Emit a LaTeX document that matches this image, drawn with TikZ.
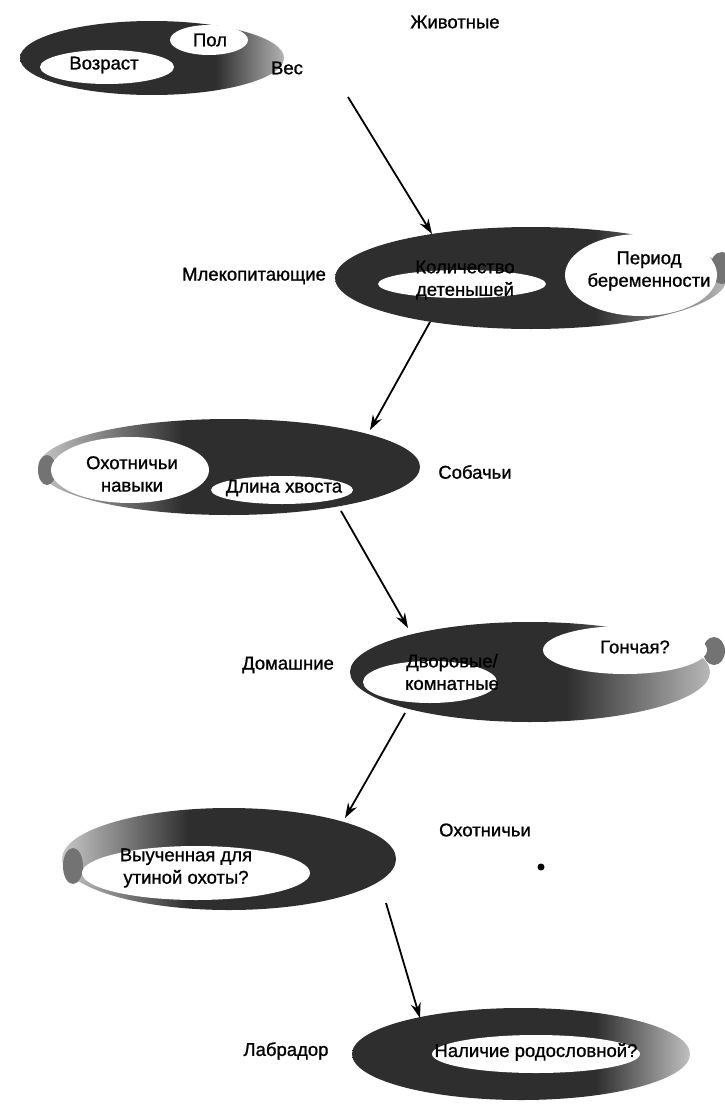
\documentclass[tikz,border=0pt]{standalone}
\usepackage{fontspec}
\setmainfont{Liberation Sans}
\newfontfamily\inkfont{Liberation Sans}[FakeBold=1.0]
\usetikzlibrary{arrows.meta}

% Ring fills: solid dark on one side, thinning out on the other.
% (The visible part of a shading is the 25bp..75bp band.)
\pgfdeclarehorizontalshading{ringA}{100bp}{color(0bp)=(black!82); color(62bp)=(black!82); color(75bp)=(black!30); color(100bp)=(black!30)}
\pgfdeclarehorizontalshading{ringB}{100bp}{color(0bp)=(black!82); color(58bp)=(black!82); color(75bp)=(black!28); color(100bp)=(black!28)}
\pgfdeclarehorizontalshading{ringC}{100bp}{color(0bp)=(black!82); color(55bp)=(black!82); color(75bp)=(black!28); color(100bp)=(black!28)}
\pgfdeclarehorizontalshading{ringD}{100bp}{color(0bp)=(black!82); color(61bp)=(black!82); color(75bp)=(black!25); color(100bp)=(black!25)}
\pgfdeclarehorizontalshading{ringL}{100bp}{color(0bp)=(black!22); color(25bp)=(black!22); color(44bp)=(black!82); color(100bp)=(black!82)}

\begin{document}
\begin{tikzpicture}[x=1pt,y=-1pt,
  lbl/.style={font=\inkfont\fontsize{18.5}{22.5}\selectfont, inner sep=0pt, align=center},
  hole/.style={fill=white},
  tipcap/.style={fill=black!55},
  link/.style={line width=1.8pt, -{Stealth[length=15pt,width=10pt]}}]
\useasboundingbox (0,0) rectangle (725,1105);
\fill[white] (0,0) rectangle (725,1105);

% --- Животные
\shade[shading=ringA] (152,58) ellipse [x radius=132pt, y radius=37pt];
\fill[hole] (209,40) ellipse [x radius=39pt, y radius=15pt];
\fill[hole] (107,67) ellipse [x radius=67pt, y radius=17pt];
\node[lbl] (pol) at (210,40) {Пол};
\node[lbl] (vozrast) at (104,65) {Возраст};
\node[lbl] (ves) at (287,68) {Вес};
\node[lbl] (zhivotnye) at (455,22) {Животные};
\coordinate (a1s) at (348,97);
\coordinate (a1e) at (432,234);

% --- Млекопитающие
\shade[shading=ringB] (531,278) ellipse [x radius=196pt, y radius=51pt];
\fill[tipcap] (722,268) ellipse [x radius=12pt, y radius=16pt];
\fill[hole] (462,284) ellipse [x radius=84pt, y radius=14pt];
\fill[hole] (641,275) ellipse [x radius=76pt, y radius=41pt];
\node[lbl] (kolichestvo) at (465,280) {Количество\\детенышей};
\node[lbl] (period) at (649,271) {Период\\беременности};
\node[lbl] (mlek) at (254,276) {Млекопитающие};
\coordinate (a2s) at (430,322);
\coordinate (a2e) at (370,430);

% --- Собачьи
\shade[shading=ringL] (229,467) ellipse [x radius=191pt, y radius=48pt];
\fill[tipcap] (47,470) ellipse [x radius=9pt, y radius=15pt];
\fill[hole] (130,470) ellipse [x radius=79pt, y radius=33pt];
\fill[hole] (282,490) ellipse [x radius=71pt, y radius=14pt];
\node[lbl] (navyki) at (132,474) {Охотничьи\\навыки};
\node[lbl] (hvost) at (284,488) {Длина хвоста};
\node[lbl] (sobachi) at (475,472) {Собачьи};
\coordinate (a3s) at (341,511);
\coordinate (a3e) at (408,628);

% --- Домашние
\shade[shading=ringC] (530,672) ellipse [x radius=180pt, y radius=50pt];
\fill[tipcap] (714,651) ellipse [x radius=11pt, y radius=14pt];
\fill[hole] (430,682) ellipse [x radius=67pt, y radius=21pt];
\fill[hole] (625,650) ellipse [x radius=82pt, y radius=24pt];
\node[lbl] (dvor) at (452,672) {Дворовые/\\комнатные};
\node[lbl] (gonch) at (635,647) {Гончая?};
\node[lbl] (domash) at (288,665) {Домашние};
\coordinate (a4s) at (405,713);
\coordinate (a4e) at (345,818);

% --- Охотничьи
\shade[shading=ringL] (229,859) ellipse [x radius=167pt, y radius=51pt];
\fill[tipcap] (73,866) ellipse [x radius=10pt, y radius=18pt];
\fill[hole] (196,873) ellipse [x radius=114pt, y radius=27pt];
\node[lbl] (utka) at (186,868) {Выученная для\\утиной охоты?};
\node[lbl] (ohot) at (485,830) {Охотничьи};
\fill (541,867) circle [radius=3.5pt];
\coordinate (a5s) at (386,903);
\coordinate (a5e) at (420,1018);

% --- Лабрадор
\shade[shading=ringD] (521,1054) ellipse [x radius=169pt, y radius=46pt];
\fill[hole] (536,1054) ellipse [x radius=104pt, y radius=19pt];
\node[lbl] (rodoslov) at (536,1052) {Наличие родословной?};
\node[lbl] (labrador) at (286,1051) {Лабрадор};

% --- connectors
\draw[link] (a1s) -- (a1e);
\draw[link] (a2s) -- (a2e);
\draw[link] (a3s) -- (a3e);
\draw[link] (a4s) -- (a4e);
\draw[link] (a5s) -- (a5e);
\end{tikzpicture}
\end{document}
